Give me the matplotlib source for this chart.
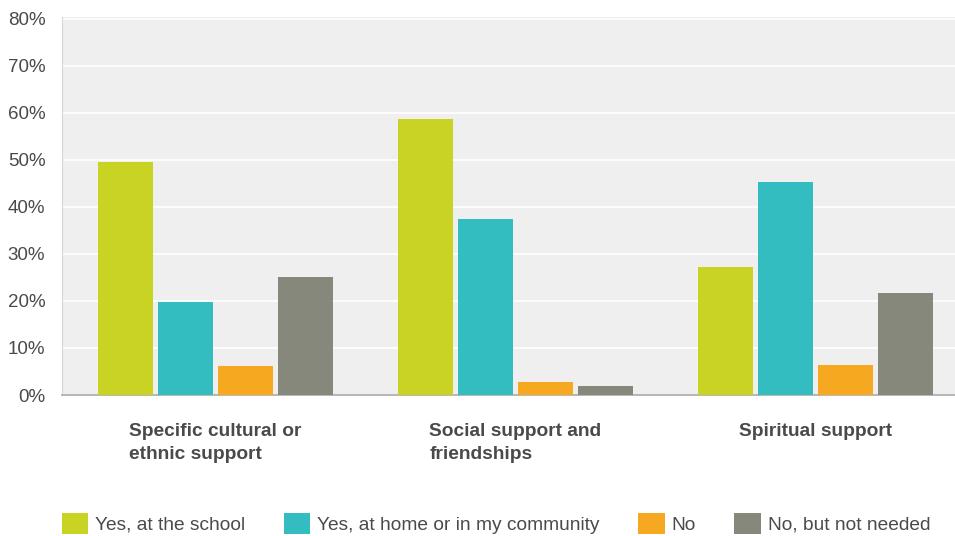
import matplotlib.pyplot as plt
import matplotlib
import numpy as np

plt.rcParams['font.family'] = ['Liberation Sans', 'DejaVu Sans']

categories = ["Specific cultural or\nethnic support", "Social support and\nfriendships", "Spiritual support"]
series = ["Yes, at the school", "Yes, at home or in my community", "No", "No, but not needed"]
values = [
    [49.5, 58.8, 27.3],
    [19.8, 37.5, 45.2],
    [6.2, 2.8, 6.4],
    [25.2, 1.9, 21.7],
]
colors = ["#C9D324", "#33BDC1", "#F6A821", "#85887A"]
yticks = [0, 10, 20, 30, 40, 50, 60, 70, 80]

text_col = "#4a4a4a"

fig = plt.figure(figsize=(9.55, 5.36), dpi=100)
ax = fig.add_axes([62/955, 1-395/536, 1-62/955, (395-17)/536])
ax.set_facecolor("#EFEFEF")

x = np.arange(len(categories))
step = 0.2
width = 0.183
for i, (name, vals) in enumerate(zip(series, values)):
    ax.bar(x + (i - 1.5) * step, vals, width=width, color=colors[i], label=name, zorder=3)

ax.set_xlim(-0.51, 2.465)
ax.set_ylim(0, 80.4)
ax.set_yticks(yticks)
ax.set_yticklabels([f"{t}%" for t in yticks], fontsize=13.5, color=text_col)
ax.yaxis.grid(True, color="white", linewidth=1.2, zorder=0)
ax.tick_params(axis='y', length=0, pad=12)
ax.tick_params(axis='x', length=0, pad=20)
ax.set_xticks(x)
ax.set_xticklabels(categories, fontsize=13.8, fontweight='bold', color=text_col,
                   multialignment='left', linespacing=1.45)
for s in ["top", "right"]:
    ax.spines[s].set_visible(False)
ax.spines["left"].set_color("#d6d6d6")
ax.spines["bottom"].set_color("#aaaaaa")
ax.spines["bottom"].set_linewidth(1.2)

fig.legend(loc='lower left', bbox_to_anchor=(52/955, -0.014), ncol=4, frameon=False,
           fontsize=13.8, handlelength=1.4, handleheight=1.3, handletextpad=0.35,
           columnspacing=2.0, labelcolor=text_col, borderaxespad=0.1)

plt.savefig("out.png", dpi=100)
